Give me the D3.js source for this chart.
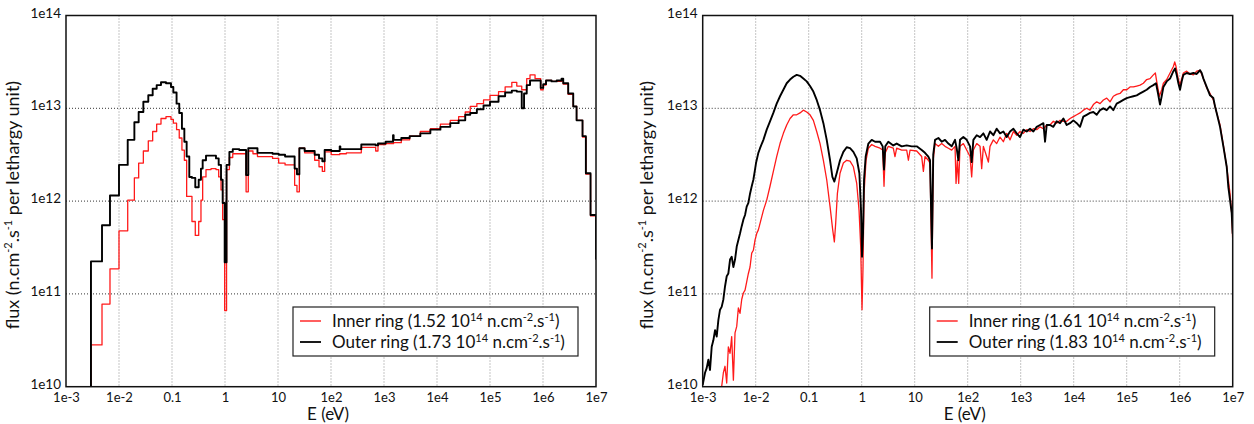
<!DOCTYPE html>
<html>
<head>
<meta charset="utf-8">
<script src="https://cdn.jsdelivr.net/npm/d3@7"></script>
<style>
    body { margin: 0; background: #fff; }
    #chart { width: 1254px; height: 424px; display: flex; }
    text { font-family: Lato, "Open Sans", sans-serif; fill: #111; }
</style>
</head>
<body>
<div id="chart"></div>
<script>

// ---- data (energies in eV, flux given as log10 of n.cm-2.s-1 per lethargy unit) ----

let xTickLabels = ["1e-3", "1e-2", "0.1", "1", "10", "1e2", "1e3", "1e4", "1e5", "1e6", "1e7"];
let yTickLabels = ["1e10", "1e11", "1e12", "1e13", "1e14"];

let seriesNames = ["Inner ring", "Outer ring"];
let totalsLeft = [1.52, 1.73];
let totalsRight = [1.61, 1.83];

// left: multigroup histogram, shared group boundaries
let groupEdges = [2.96e-3, 4.78e-3, 6.76e-3, 1.0e-2, 1.46e-2, 1.95e-2, 2.35e-2, 2.88e-2, 3.57e-2, 4.32e-2,
    5.14e-2, 6.2e-2, 7.7e-2, 9.57e-2, 0.106, 0.122, 0.137, 0.154, 0.171, 0.189, 0.212, 0.238, 0.275, 0.319,
    0.352, 0.379, 0.438, 0.545, 0.676, 0.760, 0.841, 0.904, 0.986, 1.07, 1.21, 1.40, 1.86, 2.5, 2.75, 3.37,
    4.1, 7.9, 10.3, 13.6, 17.9, 20.6, 22.8, 25.3, 31.8, 49.2, 59.4, 68.6, 75.9, 101, 146, 150, 195, 373,
    697, 770, 1075, 1480, 1520, 2120, 3050, 4850, 7500, 1.16e4, 1.78e4, 2.56e4, 3.41e4, 4.24e4, 5.65e4,
    7.55e4, 1e5, 1.45e5, 1.93e5, 2.58e5, 3.2e5, 3.97e5, 4.39e5, 4.93e5, 5.69e5, 7.08e5, 9.04e5, 1.01e6,
    1.14e6, 1.45e6, 1.81e6, 2.24e6, 2.41e6, 2.99e6, 3.72e6, 4.3e6, 5.57e6, 6.44e6, 7.89e6, 1e7];

let innerGroups = [10.45, 10.89, 11.27, 11.68, 12.01, 12.25, 12.41, 12.54, 12.65, 12.75,
    12.83, 12.89, 12.91, 12.88, 12.84, 12.77, 12.68, 12.55, 12.44, 12.05, 12.05, 11.78, 11.63, 11.78,
    12.01, 12.26, 12.34, 12.35, 12.34, 12.26, 12.12, 11.80, 10.82, 12.34, 12.47, 12.51, 12.51, 12.10, 12.54,
    12.51, 12.48, 12.46, 12.41, 12.39, 12.39, 12.17, 12.10, 12.57, 12.52, 12.44, 12.37, 12.32, 12.53, 12.50,
    12.51, 12.51, 12.52, 12.58, 12.54, 12.61, 12.62, 12.62, 12.63, 12.66, 12.70, 12.75, 12.78, 12.83, 12.87,
    12.91, 12.96, 13.02, 13.05, 13.09, 13.14, 13.18, 13.23, 13.28, 13.24, 13.20, 13.20, 13.32, 13.36, 13.32,
    13.20, 13.25, 13.30, 13.29, 13.29, 13.32, 13.26, 13.15, 13.02, 12.87, 12.69, 12.29, 11.84];

let outerGroups = [11.35, 11.74, 12.06, 12.39, 12.66, 12.85, 12.96, 13.07, 13.14, 13.21,
    13.25, 13.28, 13.27, 13.23, 13.17, 13.05, 12.95, 12.78, 12.64, 12.48, 12.26, 12.25, 12.15, 12.23,
    12.35, 12.44, 12.49, 12.49, 12.46, 12.39, 12.23, 11.98, 11.34, 12.39, 12.53, 12.56, 12.55, 12.28, 12.57,
    12.57, 12.52, 12.51, 12.50, 12.48, 12.48, 12.35, 12.29, 12.57, 12.54, 12.50, 12.46, 12.43, 12.55, 12.54,
    12.59, 12.56, 12.56, 12.61, 12.60, 12.62, 12.64, 12.71, 12.66, 12.68, 12.70, 12.73, 12.77, 12.80, 12.84,
    12.87, 12.93, 12.95, 12.99, 13.03, 13.07, 13.13, 13.17, 13.19, 13.18, 13.00, 13.16, 13.25, 13.30, 13.30,
    13.22, 13.26, 13.30, 13.29, 13.30, 13.32, 13.27, 13.16, 13.02, 12.87, 12.70, 12.30, 11.85];

let groupFloor = [10.0, 11.37];   // value before the first group, value after the last

// right: fine-group spectra, [log10 E, log10 flux]
let innerFine = [[-2.642,10.00],[-2.610,10.15],[-2.579,10.22],[-2.547,10.04],[-2.516,10.43],[-2.484,10.36],
    [-2.453,10.54],[-2.421,10.07],[-2.390,10.58],[-2.358,10.65],[-2.327,10.85],[-2.296,10.79],[-2.264,10.94],
    [-2.233,11.01],[-2.201,11.04],[-2.170,11.13],[-2.138,11.22],[-2.107,11.29],[-2.075,11.44],[-2.044,11.47],
    [-2.013,11.58],[-1.981,11.65],[-1.950,11.69],[-1.918,11.76],[-1.855,11.90],[-1.792,12.01],[-1.730,12.16],
    [-1.667,12.32],[-1.604,12.48],[-1.541,12.62],[-1.478,12.73],[-1.415,12.82],[-1.352,12.89],[-1.289,12.93],
    [-1.226,12.93],[-1.164,12.95],[-1.101,12.98],[-1.038,12.96],[-0.975,12.93],[-0.912,12.87],[-0.849,12.75],
    [-0.786,12.62],[-0.723,12.44],[-0.660,12.23],[-0.597,11.94],[-0.547,11.69],[-0.516,11.56],[-0.491,11.76],
    [-0.459,12.08],[-0.409,12.30],[-0.346,12.41],[-0.283,12.44],[-0.220,12.43],[-0.157,12.37],[-0.094,12.19],
    [-0.050,11.90],[-0.019,11.51],[0.006,10.83],[0.025,11.29],[0.044,12.08],[0.082,12.44],[0.126,12.57],
    [0.189,12.61],[0.252,12.59],[0.346,12.57],[0.396,12.55],[0.421,12.16],[0.445,12.52],[0.502,12.59],
    [0.596,12.57],[0.628,12.48],[0.660,12.57],[0.755,12.55],[0.849,12.55],[0.881,12.44],[0.912,12.55],
    [1.038,12.54],[1.132,12.48],[1.164,12.32],[1.194,12.48],[1.257,12.44],[1.289,12.41],[1.326,11.17],
    [1.350,12.45],[1.384,12.62],[1.447,12.59],[1.509,12.62],[1.572,12.59],[1.635,12.57],[1.698,12.55],
    [1.761,12.59],[1.780,12.19],[1.805,12.44],[1.830,12.19],[1.855,12.59],[1.918,12.62],[1.981,12.55],
    [2.044,12.48],[2.075,12.26],[2.107,12.55],[2.170,12.62],[2.233,12.59],[2.264,12.35],[2.296,12.59],
    [2.358,12.48],[2.390,12.42],[2.421,12.59],[2.484,12.66],[2.547,12.62],[2.610,12.69],[2.673,12.64],
    [2.736,12.73],[2.799,12.66],[2.862,12.75],[2.925,12.71],[2.987,12.75],[3.050,12.73],[3.113,12.77],
    [3.176,12.75],[3.239,12.78],[3.302,12.77],[3.365,12.80],[3.428,12.78],[3.491,12.82],[3.553,12.82],
    [3.616,12.86],[3.679,12.84],[3.742,12.87],[3.805,12.86],[3.868,12.86],[3.931,12.89],[3.994,12.91],
    [4.057,12.93],[4.119,12.95],[4.182,12.98],[4.245,13.00],[4.308,12.98],[4.371,13.04],[4.434,13.07],
    [4.497,13.05],[4.560,13.09],[4.623,13.11],[4.686,13.07],[4.748,13.13],[4.811,13.15],[4.874,13.16],
    [4.937,13.20],[5.000,13.20],[5.063,13.23],[5.126,13.23],[5.189,13.24],[5.252,13.25],[5.314,13.27],
    [5.377,13.31],[5.440,13.32],[5.503,13.36],[5.541,13.38],[5.566,13.29],[5.616,13.13],[5.660,13.20],
    [5.692,13.27],[5.755,13.31],[5.818,13.38],[5.881,13.45],[5.906,13.50],[5.931,13.45],[5.975,13.31],
    [6.006,13.25],[6.038,13.32],[6.069,13.38],[6.132,13.40],[6.195,13.37],[6.258,13.36],[6.321,13.40],
    [6.384,13.41],[6.447,13.32],[6.509,13.22],[6.572,13.16],[6.635,13.09],[6.698,12.95],[6.761,12.82],
    [6.824,12.60],[6.887,12.37],[6.950,12.08],[6.981,11.87],[7.000,11.58]];

let outerFine = [[-3.000,10.02],[-2.956,10.15],[-2.925,10.20],[-2.893,10.29],[-2.862,10.18],[-2.830,10.43],
    [-2.799,10.50],[-2.767,10.61],[-2.736,10.54],[-2.704,10.72],[-2.673,10.83],[-2.642,10.86],[-2.610,10.94],
    [-2.579,11.08],[-2.547,11.19],[-2.516,11.22],[-2.484,11.37],[-2.453,11.40],[-2.421,11.29],[-2.390,11.37],
    [-2.358,11.51],[-2.327,11.58],[-2.296,11.65],[-2.264,11.73],[-2.233,11.80],[-2.201,11.85],[-2.170,11.94],
    [-2.138,11.98],[-2.107,12.08],[-2.075,12.16],[-2.044,12.23],[-2.013,12.34],[-1.994,12.41],[-1.950,12.52],
    [-1.918,12.57],[-1.855,12.66],[-1.792,12.77],[-1.730,12.86],[-1.667,12.95],[-1.604,13.05],[-1.541,13.13],
    [-1.478,13.20],[-1.415,13.27],[-1.352,13.31],[-1.289,13.34],[-1.226,13.36],[-1.164,13.35],[-1.101,13.32],
    [-1.038,13.29],[-0.975,13.24],[-0.912,13.18],[-0.849,13.09],[-0.786,12.98],[-0.723,12.84],[-0.660,12.66],
    [-0.597,12.44],[-0.553,12.26],[-0.516,12.21],[-0.472,12.30],[-0.409,12.44],[-0.346,12.53],[-0.283,12.58],
    [-0.220,12.57],[-0.157,12.53],[-0.094,12.46],[-0.044,12.30],[-0.013,11.90],[0.006,11.40],[0.025,11.65],
    [0.044,12.23],[0.075,12.48],[0.126,12.62],[0.189,12.66],[0.252,12.64],[0.346,12.64],[0.396,12.59],
    [0.421,12.34],[0.445,12.59],[0.502,12.64],[0.596,12.60],[0.660,12.62],[0.755,12.59],[0.849,12.60],
    [0.943,12.59],[1.038,12.59],[1.132,12.55],[1.194,12.52],[1.257,12.48],[1.289,12.44],[1.326,11.49],
    [1.350,12.50],[1.384,12.66],[1.447,12.68],[1.509,12.64],[1.572,12.66],[1.635,12.62],[1.698,12.59],
    [1.761,12.66],[1.792,12.57],[1.824,12.44],[1.855,12.66],[1.918,12.69],[1.981,12.66],[2.044,12.59],
    [2.075,12.42],[2.107,12.66],[2.170,12.71],[2.233,12.69],[2.296,12.73],[2.358,12.66],[2.421,12.75],
    [2.484,12.71],[2.547,12.78],[2.610,12.73],[2.673,12.75],[2.736,12.69],[2.799,12.75],[2.862,12.78],
    [2.925,12.73],[2.987,12.69],[3.050,12.77],[3.113,12.75],[3.176,12.78],[3.239,12.75],[3.302,12.80],
    [3.365,12.82],[3.428,12.84],[3.459,12.64],[3.491,12.82],[3.553,12.82],[3.616,12.80],[3.679,12.86],
    [3.742,12.84],[3.805,12.89],[3.868,12.82],[3.931,12.84],[3.994,12.87],[4.057,12.84],[4.119,12.80],
    [4.182,12.91],[4.245,12.93],[4.308,12.95],[4.371,12.96],[4.434,12.93],[4.497,12.98],[4.560,13.00],
    [4.623,12.98],[4.686,13.02],[4.748,12.98],[4.811,13.05],[4.874,13.07],[4.937,13.09],[5.000,13.11],
    [5.063,13.12],[5.126,13.13],[5.189,13.14],[5.252,13.16],[5.314,13.18],[5.377,13.20],[5.440,13.23],
    [5.503,13.25],[5.553,13.27],[5.591,13.16],[5.629,13.04],[5.660,13.13],[5.692,13.23],[5.755,13.29],
    [5.818,13.32],[5.881,13.40],[5.912,13.43],[5.943,13.36],[5.975,13.27],[6.006,13.20],[6.038,13.29],
    [6.069,13.36],[6.132,13.38],[6.195,13.37],[6.258,13.38],[6.321,13.37],[6.384,13.41],[6.415,13.38],
    [6.447,13.32],[6.509,13.23],[6.572,13.14],[6.635,13.11],[6.667,13.02],[6.698,12.95],[6.761,12.80],
    [6.824,12.59],[6.887,12.37],[6.918,12.15],[6.950,12.01],[6.981,11.87],[7.000,11.65]];

let seriesColors = ["#ff1a1a", "#000000"];


class FluxVis {

    constructor(_parentElement, _series, _totals, _config) {
        this.parentElement = _parentElement;
        this.series = _series;
        this.totals = _totals;
        this.config = _config;

        this.initVis();
    }

    initVis() {
        let vis = this;
        let margin = vis.config.margin;

        vis.width = vis.config.outerWidth - margin.left - margin.right;
        vis.height = 424 - margin.top - margin.bottom;

        vis.svg = d3.select("#" + vis.parentElement).append("svg")
            .attr("width", vis.config.outerWidth)
            .attr("height", 424)
            .append("g")
            .attr("transform", "translate(" + margin.left + "," + margin.top + ")");

        vis.svg.append("defs")
            .append("clipPath")
            .attr("id", "clip-" + vis.config.id)
            .append("rect")
            .attr("width", vis.width)
            .attr("height", vis.height);

        vis.x = d3.scaleLog().domain([1e-3, 1e7]).range([0, vis.width]);
        vis.y = d3.scaleLog().domain([1e10, 1e14]).range([vis.height, 0]);

        vis.xTicks = xTickLabels.map((d, i) => Math.pow(10, i - 3));
        vis.yTicks = yTickLabels.map((d, i) => Math.pow(10, i + 10));

        // dotted grid
        vis.svg.append("g")
            .attr("class", "grid-x")
            .selectAll("line")
            .data(vis.xTicks.slice(1, -1))
            .enter().append("line")
            .attr("x1", d => vis.x(d)).attr("x2", d => vis.x(d))
            .attr("y1", 0).attr("y2", vis.height)
            .attr("stroke", "#8a8a8a")
            .attr("stroke-width", 1)
            .attr("stroke-dasharray", "1,2");

        vis.svg.append("g")
            .attr("class", "grid-y")
            .selectAll("line")
            .data(vis.yTicks.slice(1, -1))
            .enter().append("line")
            .attr("x1", 0).attr("x2", vis.width)
            .attr("y1", d => vis.y(d)).attr("y2", d => vis.y(d))
            .attr("stroke", "#333")
            .attr("stroke-width", 1)
            .attr("stroke-dasharray", "1,2");

        // axes (labels only)
        let xAxis = vis.svg.append("g")
            .attr("transform", "translate(0," + vis.height + ")")
            .call(d3.axisBottom(vis.x).tickValues(vis.xTicks)
                .tickFormat((d, i) => xTickLabels[i]).tickSize(0).tickPadding(6));
        xAxis.select(".domain").remove();
        xAxis.selectAll("text").style("font-size", "13px").attr("fill", "#111")
            .style("font-family", "Lato, sans-serif");

        let yAxis = vis.svg.append("g")
            .call(d3.axisLeft(vis.y).tickValues(vis.yTicks)
                .tickFormat((d, i) => yTickLabels[i]).tickSize(0).tickPadding(5));
        yAxis.select(".domain").remove();
        yAxis.selectAll("text").style("font-size", "13.5px").attr("fill", "#111")
            .attr("dy", "0.12em")
            .style("font-family", "Lato, sans-serif");

        vis.svg.append("text")
            .attr("x", vis.width / 2 - 3)
            .attr("y", vis.height + 33)
            .attr("text-anchor", "middle")
            .style("font-size", "17px")
            .text("E (eV)");

        let yLabel = vis.svg.append("text")
            .attr("transform", "rotate(-90)")
            .attr("x", -vis.height / 2 - 4)
            .attr("y", vis.config.yLabelOffset)
            .attr("text-anchor", "middle")
            .style("font-size", "18px");
        yLabel.append("tspan").text("flux (n.cm");
        yLabel.append("tspan").attr("dy", -7).style("font-size", "11px").text("-2");
        yLabel.append("tspan").attr("dy", 7).text(".s");
        yLabel.append("tspan").attr("dy", -7).style("font-size", "11px").text("-1");
        yLabel.append("tspan").attr("dy", 7).text(" per lethargy unit)");

        vis.line = d3.line()
            .curve(vis.config.step ? d3.curveStepAfter : d3.curveLinear)
            .x(d => vis.x(d.E))
            .y(d => vis.y(d.flux));

        vis.lineGroup = vis.svg.append("g")
            .attr("clip-path", "url(#clip-" + vis.config.id + ")");

        vis.wrangleData();
    }

    wrangleData() {
        let vis = this;
        vis.displayData = vis.series.map(s => s.map(p => ({E: Math.pow(10, p[0]), flux: Math.pow(10, p[1])})));
        vis.updateVis();
    }

    updateVis() {
        let vis = this;

        vis.lineGroup.selectAll("path")
            .data(vis.displayData)
            .enter().append("path")
            .attr("fill", "none")
            .attr("stroke", (d, i) => seriesColors[i])
            .attr("stroke-width", (d, i) => i === 0 ? 1.3 : 1.9)
            .attr("stroke-linejoin", "round")
            .attr("d", vis.line);

        // frame
        vis.svg.append("rect")
            .attr("width", vis.width)
            .attr("height", vis.height)
            .attr("fill", "none")
            .attr("stroke", "#111")
            .attr("stroke-width", 1.5);

        // legend
        let legend = vis.svg.append("g")
            .attr("transform", "translate(227,291.5)");
        legend.append("rect")
            .attr("width", 285).attr("height", 49)
            .attr("fill", "#fff").attr("stroke", "#222").attr("stroke-width", 1.2);

        let rows = legend.selectAll(".legend-row")
            .data(seriesNames)
            .enter().append("g")
            .attr("class", "legend-row")
            .attr("transform", (d, i) => "translate(0," + (14 + i * 21) + ")");
        rows.append("line")
            .attr("x1", 7).attr("x2", 28)
            .attr("stroke", (d, i) => seriesColors[i])
            .attr("stroke-width", (d, i) => i === 0 ? 1.4 : 1.8);
        let t = rows.append("text")
            .attr("x", 39).attr("y", 6)
            .style("font-size", "17px");
        t.append("tspan").text((d, i) => d + " (" + vis.totals[i].toFixed(2) + " 10");
        t.append("tspan").attr("dy", -6).style("font-size", "11px").text("14");
        t.append("tspan").attr("dy", 6).text(" n.cm");
        t.append("tspan").attr("dy", -6).style("font-size", "11px").text("-2");
        t.append("tspan").attr("dy", 6).text(".s");
        t.append("tspan").attr("dy", -6).style("font-size", "11px").text("-1");
        t.append("tspan").attr("dy", 6).text(")");
    }
}

// build histogram points for the step panel
function groupPoints(values) {
    let pts = [[Math.log10(groupEdges[0]), groupFloor[0]]];
    values.forEach((v, i) => pts.push([Math.log10(groupEdges[i]), v]));
    pts.push([Math.log10(groupEdges[values.length]), groupFloor[1]]);
    return pts;
}

new FluxVis("chart", [groupPoints(innerGroups), groupPoints(outerGroups)], totalsLeft, {
    id: "left", outerWidth: 627, step: true, yLabelOffset: -47,
    margin: {top: 15.5, right: 31, bottom: 37.3, left: 66}
});

new FluxVis("chart", [innerFine, outerFine], totalsRight, {
    id: "right", outerWidth: 627, step: false, yLabelOffset: -50,
    margin: {top: 15.5, right: 21.3, bottom: 37.3, left: 75.7}
});

</script>
</body>
</html>
